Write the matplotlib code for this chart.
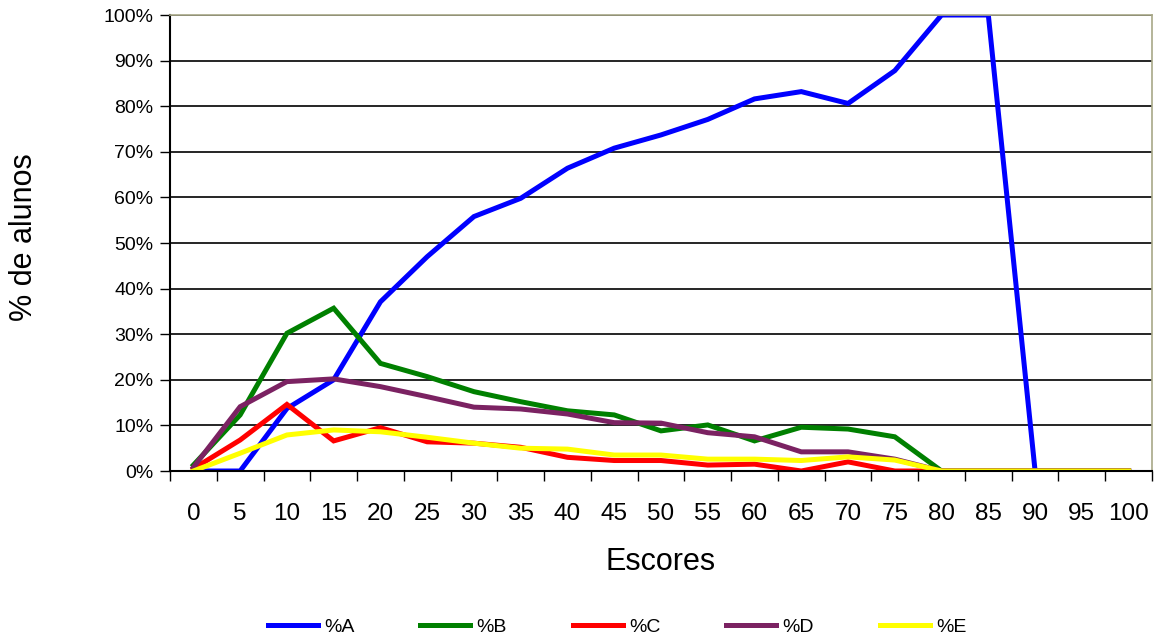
import numpy as np
import matplotlib.pyplot as plt

plt.rcParams['font.family'] = ['Liberation Sans', 'DejaVu Sans']

escores = [0, 5, 10, 15, 20, 25, 30, 35, 40, 45, 50, 55, 60, 65, 70, 75, 80, 85, 90, 95, 100]

# % de alunos por escore (0-100)
pct_a = [0, 0, 13.7, 20.0, 37.1, 47.0, 55.8, 59.8, 66.4, 70.8, 73.7, 77.1, 81.6, 83.2, 80.6, 87.8,
         100, 100, 0, 0, 0]
pct_b = [1.3, 12.3, 30.2, 35.7, 23.6, 20.7, 17.4, 15.2, 13.2, 12.3, 8.8, 10.1, 6.6, 9.6, 9.2, 7.5,
         0, 0, 0, 0, 0]
pct_c = [0.5, 6.8, 14.6, 6.6, 9.5, 6.4, 6.1, 5.2, 3.0, 2.3, 2.3, 1.3, 1.5, 0.0, 2.0, 0.0,
         0, 0, 0, 0, 0]
pct_d = [0.8, 14.1, 19.6, 20.2, 18.5, 16.3, 14.0, 13.6, 12.5, 10.6, 10.5, 8.4, 7.5, 4.2, 4.2, 2.6,
         0, 0, 0, 0, 0]
pct_e = [0, 3.9, 7.9, 9.0, 8.6, 7.4, 6.1, 5.0, 4.8, 3.5, 3.5, 2.6, 2.6, 2.3, 3.1, 2.4,
         0, 0, 0, 0, 0]

series = [("%A", pct_a, "#0000FF"),
          ("%B", pct_b, "#008000"),
          ("%C", pct_c, "#FF0000"),
          ("%D", pct_d, "#7B2262"),
          ("%E", pct_e, "#FFFF00")]

fig = plt.figure(figsize=(11.67, 6.38), dpi=100)
ax = fig.add_axes([170 / 1167, 1 - 471 / 638, (1152 - 170) / 1167, (471 - 15) / 638])

x = np.arange(len(escores))
for nome, vals, cor in series:
    ax.plot(x, np.array(vals) / 100, color=cor, lw=3.6, label=nome, solid_joinstyle='miter')

ax.set_xlim(-0.5, len(escores) - 0.5)
ax.set_ylim(0, 1)

# marcas nas fronteiras das categorias, rótulos no centro
ax.set_xticks(np.arange(-0.5, len(escores), 1))
ax.set_xticklabels([])
ax.set_xticks(x, minor=True)
ax.set_xticklabels([str(e) for e in escores], minor=True)
ax.tick_params(axis='x', which='major', direction='out', length=7, width=1, color='black')
ax.tick_params(axis='x', which='minor', length=0, pad=23, labelsize=17.5)

ax.set_yticks(np.arange(0, 1.01, 0.1))
ax.set_yticklabels([f"{int(round(v * 100))}%" for v in np.arange(0, 1.01, 0.1)])
ax.tick_params(axis='y', direction='out', length=7, width=1, pad=5, labelsize=14)

ax.grid(True, axis='y', color='black', lw=1.2)
ax.set_axisbelow(True)

for s in ('left', 'bottom'):
    ax.spines[s].set_color('black')
    ax.spines[s].set_linewidth(1.5)
for s in ('top', 'right'):
    ax.spines[s].set_color('#A8A888')
    ax.spines[s].set_linewidth(1.2)

fig.text(661 / 1167, 1 - 562 / 638, "Escores", ha='center', va='center', fontsize=22)
fig.text(24 / 1167, 1 - 237 / 638, "% de alunos", ha='center', va='center', rotation=90, fontsize=22)

fig.legend(loc='center', bbox_to_anchor=(617 / 1167, 1 - 627 / 638), ncol=5, frameon=False,
           fontsize=14, handlelength=2.57, columnspacing=3.4, handletextpad=0.31)

fig.savefig("out.png", dpi=100)
